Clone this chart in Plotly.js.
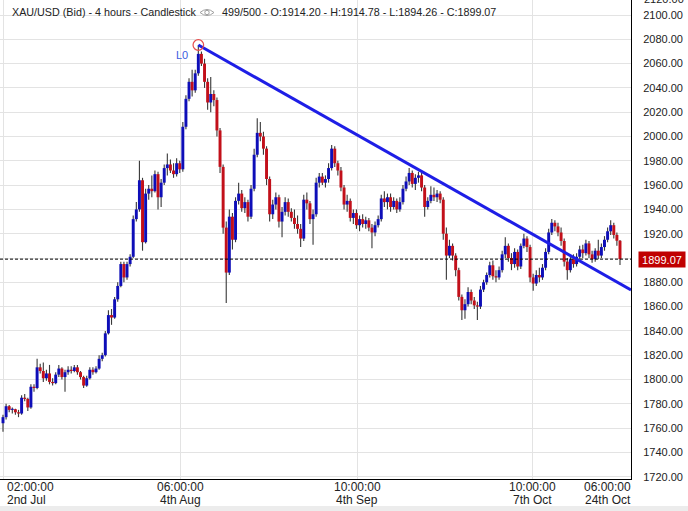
<!DOCTYPE html>
<html><head><meta charset="utf-8">
<script src="https://cdn.plot.ly/plotly-3.0.1.min.js"></script>
<style>html,body{margin:0;padding:0;background:#fff;}#chart{width:688px;height:511px;}</style>
</head><body><div id="chart"></div>
<script>
// ---- data (4h XAU/USD candles) ----
const openP = [1764,1769,1778,1775,1775.5,1773,1772,1785,1784,1777,1794,1793,1810,1807,1801,1805,1798,1797,1804,1809,
1802,1806,1808,1807,1810,1806,1802,1795,1801,1808,1806,1809,1817,1820,1838,1853,1851,1866,1877,1895,
1884,1895,1901,1932,1940,1964,1913,1953,1957,1955,1969,1950,1962,1974,1977,1972,1969,1978,1973,2008,
2031,2045,2038,2052,2068,2060,2045,2028,2035,2030,2005,1975,1925,1888,1934,1915,1947,1953,1941,1946,
1934,1957,1985,2003,2000,1990,1965,1936,1944,1950,1930,1938,1946,1938,1933,1928,1924,1916,1948,1945,
1932,1936,1962,1967,1962,1965,1974,1990,1978,1972,1958,1944,1947,1933,1937,1927,1932,1928,1931,1925,
1921,1927,1932,1949,1946,1950,1942,1947,1940,1946,1957,1963,1970,1961,1966,1968,1958,1942,1947,1952,
1950,1953,1948,1920,1902,1910,1902,1890,1868,1857,1862,1872,1865,1861,1860,1874,1880,1886,1894,1885,
1884,1890,1903,1910,1900,1895,1905,1893,1910,1916,1909,1884,1879,1886,1884,1892,1905,1921,1929,1926,
1921,1914,1897,1890,1899,1895,1901,1907,1904,1912,1903,1899,1906,1902,1909,1915,1922,1927,1919,1914.20];
const highP = [1771,1780,1779,1777,1776,1775,1787,1788,1785,1796,1796,1817,1813,1814,1808,1812,1801,1806,1812,1810,
1808,1811,1811,1812,1812,1807,1803,1803,1810,1810,1811,1820,1822,1840,1857,1858,1868,1880,1897,1897,
1897,1903,1935,1946,1980,1966,1957,1960,1968,1972,1971,1965,1977,1986,1981,1978,1982,1980,2012,2034,
2048,2055,2055,2075.3,2070,2064,2048,2049,2038,2032,2007,1977,1930,1940,1937,1950,1962,1956,1950,1948,
1960,1990,2015,2012,2004,1992,1967,1948,1954,1952,1942,1950,1949,1941,1940,1935,1928,1952,1954,1947,
1940,1966,1970,1970,1968,1978,1993,1992,1980,1975,1960,1952,1949,1940,1940,1935,1936,1934,1933,1928,
1930,1935,1952,1955,1953,1953,1950,1949,1950,1960,1967,1974,1972,1969,1971,1970,1960,1950,1959,1958,
1956,1955,1950,1925,1915,1912,1904,1892,1870,1866,1876,1874,1868,1864,1877,1882,1888,1897,1898,1890,
1893,1906,1917,1912,1904,1908,1907,1912,1920,1918,1911,1887,1890,1892,1895,1908,1924,1932,1931,1929,
1925,1916,1900,1902,1903,1904,1910,1911,1915,1914,1906,1908,1915,1912,1918,1925,1931,1929,1921,1914.78];
const lowP = [1757,1767,1773,1772,1771,1769,1771,1782,1774,1776,1790,1792,1805,1798,1799,1796,1795,1796,1802,1800,
1790,1804,1805,1806,1804,1800,1793,1794,1800,1804,1805,1808,1815,1819,1837,1845,1850,1864,1876,1880,
1882,1893,1900,1930,1938,1906,1912,1948,1950,1954,1940,1942,1960,1968,1970,1966,1967,1970,1971,2006,
2029,2033,2036,2050,2058,2040,2022,2020,2025,2000,1970,1920,1863,1886,1907,1913,1944,1938,1937,1930,
1932,1955,1983,1996,1985,1960,1930,1932,1940,1925,1917,1935,1934,1930,1924,1920,1909,1914,1940,1928,
1911,1934,1958,1960,1958,1962,1972,1975,1968,1955,1940,1938,1930,1928,1924,1922,1925,1924,1922,1908,
1918,1925,1930,1942,1940,1938,1940,1937,1938,1944,1955,1960,1958,1956,1962,1955,1934,1940,1945,1947,
1946,1945,1915,1882,1900,1898,1885,1865,1849,1850,1860,1862,1858,1849,1858,1872,1878,1884,1882,1880,
1882,1888,1900,1897,1890,1892,1890,1891,1908,1905,1880,1873,1877,1880,1882,1890,1903,1919,1922,1918,
1910,1893,1882,1888,1892,1893,1899,1900,1902,1900,1896,1897,1899,1900,1906,1913,1919,1916,1910,1894.26];
const closeP = [1769,1778,1775,1775.5,1773,1772,1785,1784,1777,1794,1793,1810,1807,1801,1805,1798,1797,1804,1809,1802,
1806,1808,1807,1810,1806,1802,1795,1801,1808,1806,1809,1817,1820,1838,1853,1851,1866,1877,1895,1884,
1895,1901,1932,1940,1964,1913,1953,1957,1955,1969,1950,1962,1974,1977,1972,1969,1978,1973,2008,2031,
2045,2038,2052,2068,2060,2045,2028,2035,2030,2005,1975,1925,1888,1934,1915,1947,1953,1941,1946,1934,
1957,1985,2003,2000,1990,1965,1936,1944,1950,1930,1938,1946,1938,1933,1928,1924,1916,1948,1945,1932,
1936,1962,1967,1962,1965,1974,1990,1978,1972,1958,1944,1947,1933,1937,1927,1932,1928,1931,1925,1921,
1927,1932,1949,1946,1950,1942,1947,1940,1946,1957,1963,1970,1961,1966,1968,1958,1942,1947,1952,1950,
1953,1948,1920,1902,1910,1902,1890,1868,1857,1862,1872,1865,1861,1860,1874,1880,1886,1894,1885,1884,
1890,1903,1910,1900,1895,1905,1893,1910,1916,1909,1884,1879,1886,1884,1892,1905,1921,1929,1926,1921,
1914,1897,1890,1899,1895,1901,1907,1904,1912,1903,1899,1906,1902,1909,1915,1922,1927,1919,1914.2,1899.07];

// x-axis labels (candle index where each date label sits)
const tickIdx  = [0, 57.1, 114.2, 170.9, 195.1];
const tickTime = ["02:00:00", "06:00:00", "10:00:00", "10:00:00", "06:00:00"];
const tickDate = ["2nd Jul", "4th Aug", "4th Sep", "7th Oct", "24th Oct"];
const gridIdx  = [0, 57.1, 114.2, 170.9];
const yTicks   = [1720,1740,1760,1780,1800,1820,1840,1860,1880,1900,1920,1940,1960,1980,2000,2020,2040,2060,2080,2100];

// trend line drawn from the L0 high
const trendX = [63, 202.55];
const trendY = [2075.3, 1873.7];

const titleMain = "XAU/USD (Bid) - 4 hours - Candlestick";
const titleInfo = "499/500 - O:1914.20 - H:1914.78 - L:1894.26 - C:1899.07";

// ---- layout helpers ----
const W = 688, H = 511, ML = 0, MR = 57, MT = 0, MB = 32;
const PW = W - ML - MR, PH = H - MT - MB;
const px2x = p => (p - ML) / PW;
const py2y = p => 1 - (p - MT) / PH;

const idx = closeP.map((_, i) => i);
const n = closeP.length;
const lastClose = closeP[n - 1];
let peakI = 0;
highP.forEach((h, i) => { if (h > highP[peakI]) peakI = i; });

// the last-price box covers the tick label nearest to it
const yTickText = yTicks.map(v => Math.abs(v - lastClose) < 8 ? '' : v.toFixed(2));

const BLUE = '#0e0eb8', RED = '#c2101a', WICK = '#3a3a3a';
const FONT = 'Liberation Sans, Arial, sans-serif';

// wicks: thin bars from low to high
const wickTrace = {
  type: 'bar', x: idx, base: lowP, y: highP.map((h, i) => h - lowP[i]),
  width: 0.36, marker: {color: WICK, line: {width: 0}},
  hoverinfo: 'skip', showlegend: false
};
// bodies: bars from min(open,close) to max(open,close)
const bodyTrace = {
  type: 'bar', x: idx,
  base: openP.map((o, i) => Math.min(o, closeP[i])),
  y: openP.map((o, i) => Math.max(Math.abs(closeP[i] - o), 0.9)),
  width: 0.95,
  marker: {color: openP.map((o, i) => closeP[i] >= o ? BLUE : RED), line: {width: 0}},
  hoverinfo: 'skip', showlegend: false
};

const annotations = [];
annotations.push({xref: 'paper', yref: 'paper', x: px2x(10), y: py2y(12.3), xanchor: 'left', yanchor: 'middle',
  text: titleMain, showarrow: false, font: {family: FONT, size: 10.75, color: '#222'}});
annotations.push({xref: 'paper', yref: 'paper', x: px2x(220), y: py2y(12.3), xanchor: 'left', yanchor: 'middle',
  text: titleInfo, showarrow: false, font: {family: FONT, size: 10.75, color: '#222'}});
tickIdx.forEach((t, k) => {
  const anchor = k === 0 ? 'left' : 'center';
  const xs = k === 0 ? 2 : 0;
  annotations.push({xref: 'x', yref: 'paper', x: t, y: py2y(486.5), xanchor: anchor, yanchor: 'middle', xshift: xs,
    text: tickTime[k], showarrow: false, font: {family: FONT, size: 12, color: '#222'}});
  annotations.push({xref: 'x', yref: 'paper', x: t, y: py2y(499.5), xanchor: anchor, yanchor: 'middle', xshift: xs,
    text: tickDate[k], showarrow: false, font: {family: FONT, size: 12, color: '#222'}});
});
annotations.push({xref: 'paper', yref: 'paper', x: px2x(641.5), y: py2y(-1.5), xanchor: 'left', yanchor: 'middle',
  text: (yTicks[yTicks.length - 1] + 20).toFixed(2), showarrow: false, font: {family: FONT, size: 11, color: '#222'}});
annotations.push({xref: 'paper', yref: 'y', x: px2x(637.5), y: lastClose, xanchor: 'left', yanchor: 'middle',
  text: lastClose.toFixed(2), showarrow: false, bgcolor: '#c00000', width: 44, height: 13, borderpad: 1,
  font: {family: FONT, size: 11, color: '#fff'}});
annotations.push({xref: 'x', yref: 'y', x: peakI, y: highP[peakI], xshift: -16, yshift: -10,
  text: 'L0', showarrow: false, font: {family: FONT, size: 11, color: '#3a5ae0'}});

// eye icon in title (decoration)
const ex0 = 200, ex1 = 214, ec = 207, ey = 12.5;
const eyePath = `M ${px2x(ex0)},${py2y(ey)} Q ${px2x(ec)},${py2y(ey - 6)} ${px2x(ex1)},${py2y(ey)} Q ${px2x(ec)},${py2y(ey + 6)} ${px2x(ex0)},${py2y(ey)} Z`;

const shapes = [
  {type: 'line', xref: 'paper', yref: 'y', x0: 0, x1: 1, y0: lastClose, y1: lastClose,
   line: {color: '#000', width: 1, dash: '3px,2px'}, layer: 'above'},
  {type: 'line', xref: 'x', yref: 'y', x0: trendX[0], y0: trendY[0], x1: trendX[1], y1: trendY[1],
   line: {color: '#1e1ee6', width: 3}, layer: 'above'},
  {type: 'circle', xref: 'x', yref: 'y', xsizemode: 'pixel', ysizemode: 'pixel',
   xanchor: peakI, yanchor: highP[peakI], x0: -5.3, x1: 5.3, y0: -5.3, y1: 5.3,
   line: {color: '#e64c4c', width: 1.2}, layer: 'above'},
  {type: 'path', xref: 'paper', yref: 'paper', path: eyePath, line: {color: '#a0a0a0', width: 1}},
  {type: 'circle', xref: 'paper', yref: 'paper', x0: px2x(ec - 2.2), x1: px2x(ec + 2.2), y0: py2y(ey + 2.2), y1: py2y(ey - 2.2),
   line: {color: '#a0a0a0', width: 1}},
  {type: 'rect', xref: 'paper', yref: 'paper', x0: px2x(0), x1: px2x(688), y0: py2y(511), y1: py2y(506),
   fillcolor: '#ececec', line: {width: 0}, layer: 'below'}
];

const layout = {
  width: W, height: H,
  margin: {l: ML, r: MR, t: MT, b: MB, pad: 0},
  paper_bgcolor: '#fff', plot_bgcolor: '#fff',
  showlegend: false, barmode: 'overlay',
  font: {family: FONT, size: 11, color: '#222'},
  xaxis: {type: 'linear', range: [-0.968, 202.55],
    tickvals: gridIdx, showticklabels: false, ticks: '', showgrid: true, gridcolor: '#e3e3e3', gridwidth: 1,
    zeroline: false, showline: true, linecolor: '#000', linewidth: 1, fixedrange: true},
  yaxis: {side: 'right', range: [1718.1, 2112.35], tickvals: yTicks, ticktext: yTickText,
    ticks: '', ticklabelstandoff: 9, showgrid: true, gridcolor: '#e3e3e3', gridwidth: 1,
    zeroline: false, showline: true, linecolor: '#000', linewidth: 1,
    tickfont: {family: FONT, size: 11, color: '#222'}, fixedrange: true},
  annotations: annotations,
  shapes: shapes
};

Plotly.newPlot('chart', [wickTrace, bodyTrace], layout, {displayModeBar: false, staticPlot: true});
</script>
</body></html>
